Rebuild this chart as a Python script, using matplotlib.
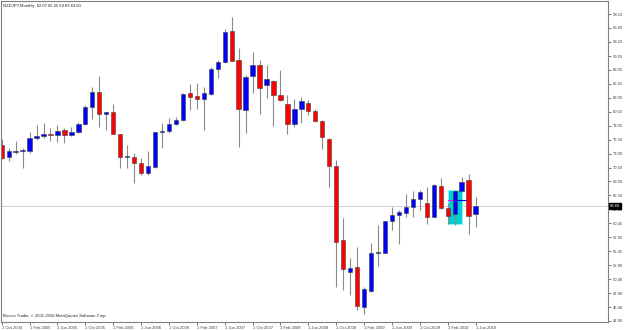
import matplotlib
matplotlib.use("Agg")
import matplotlib.pyplot as plt
from matplotlib.patches import Rectangle
import numpy as np

plt.rcParams["font.family"] = ["Liberation Sans", "DejaVu Sans"]

# Monthly NZDJPY candles, Oct 2004 .. Jun 2010
opens = [74.55, 72.44, 73.30, 73.40, 73.52, 75.80, 76.10, 76.45, 76.29, 77.19,
         76.40, 76.88, 78.32, 81.32, 84.08, 80.12, 80.55, 76.52, 72.40, 72.39,
         71.31, 69.46, 70.65, 76.90, 77.12, 78.27, 79.04, 83.84, 83.30, 82.87,
         83.72, 88.21, 89.41, 95.10, 89.83, 80.84, 87.01, 88.93, 85.30, 86.05,
         83.54, 81.92, 78.32, 81.02, 82.15, 80.66, 78.92, 75.62, 70.82, 57.46,
         51.80, 52.55, 45.36, 48.30, 55.07, 55.19, 60.94, 61.96, 62.38, 63.45,
         64.78, 64.06, 61.66, 67.17, 63.28, 62.09, 66.27, 68.20, 62.07]
highs = [75.60, 74.06, 75.27, 74.06, 76.94, 78.14, 78.56, 77.55, 78.14, 77.55,
         77.84, 78.74, 81.68, 84.92, 87.00, 80.55, 81.92, 76.60, 74.55, 73.05,
         72.15, 73.52, 76.95, 78.45, 79.35, 79.53, 83.95, 85.60, 85.65, 84.92,
         88.63, 89.83, 95.35, 97.60, 91.93, 87.13, 91.21, 89.83, 88.93, 86.23,
         88.03, 83.54, 82.76, 83.23, 82.64, 80.97, 79.04, 75.74, 71.85, 61.36,
         54.18, 56.15, 48.96, 56.98, 60.16, 60.94, 63.45, 62.86, 65.74, 66.33,
         66.45, 66.94, 67.47, 68.56, 64.06, 66.40, 68.74, 69.28, 65.25]
lows = [72.00, 71.67, 72.95, 70.35, 73.16, 75.44, 75.75, 75.27, 75.15, 74.97,
        76.16, 76.65, 78.14, 79.22, 77.84, 77.24, 76.50, 70.35, 70.50, 67.66,
        69.15, 69.15, 70.35, 73.95, 76.65, 78.14, 78.86, 80.84, 80.97, 77.24,
        83.54, 86.54, 89.23, 89.60, 74.13, 76.76, 83.84, 80.12, 82.94, 77.96,
        82.50, 76.52, 77.72, 78.45, 79.94, 78.74, 73.77, 67.05, 49.07, 48.48,
        47.58, 44.88, 44.10, 48.18, 52.79, 55.07, 59.26, 56.74, 61.54, 61.54,
        62.86, 60.34, 61.54, 63.04, 60.34, 60.16, 66.15, 58.49, 59.83]
closes = [72.15, 73.47, 73.50, 73.60, 75.86, 76.10, 76.50, 76.42, 77.12, 76.40,
          76.88, 78.27, 81.32, 84.08, 80.12, 80.40, 76.52, 72.33, 72.60, 71.26,
          69.46, 70.77, 76.83, 77.10, 78.27, 79.04, 83.66, 83.12, 82.90, 83.84,
          88.21, 89.41, 94.92, 89.70, 80.97, 86.83, 88.93, 84.74, 86.38, 83.54,
          82.64, 78.27, 81.02, 82.46, 80.66, 78.92, 76.04, 70.82, 57.16, 52.25,
          52.40, 45.60, 48.60, 55.07, 55.30, 60.88, 61.96, 62.44, 63.45, 64.78,
          66.03, 61.66, 67.35, 63.16, 61.84, 66.27, 67.95, 61.84, 63.60]

ytick_values = [42.90, 45.40, 47.90, 50.40, 52.90, 55.45, 57.95, 60.45, 62.95,
                65.50, 68.00, 70.50, 73.00, 75.50, 78.05, 80.55, 83.05, 85.55,
                88.05, 90.55, 93.10, 95.60, 98.10]
xtick_labels = ["1 Oct 2004", "1 Feb 2005", "1 Jun 2005", "1 Oct 2005",
                "1 Feb 2006", "1 Jun 2006", "1 Oct 2006", "1 Feb 2007",
                "1 Jun 2007", "1 Oct 2007", "1 Feb 2008", "1 Jun 2008",
                "1 Oct 2008", "1 Feb 2009", "1 Jun 2009", "1 Oct 2009",
                "1 Feb 2010", "1 Jun 2010"]
last_price = 63.60
title = "NZDJPY,Monthly  62.07 65.25 59.83 63.60"
credit = "Brocco Trader, \u00a9 2001-2010 MetaQuotes Software Corp."

# highlighted box (month index range and price range) and level line
box_start, box_end = 64, 66
box_low, box_high = 60.34, 66.45
level = 64.65

FS = 3.0
W, H = 625, 330
fig = plt.figure(figsize=(W / 100, H / 100), dpi=100)
fig.patch.set_facecolor("white")
ax = fig.add_axes([1 / W, 8 / H, 607 / W, 321 / H])
ax.set_facecolor("white")

o = np.array(opens); h = np.array(highs); l = np.array(lows); c = np.array(closes)
x = np.arange(len(o))

ax.add_patch(Rectangle((box_start, box_low), box_end - box_start, box_high - box_low,
                       facecolor="#00ced1", edgecolor="#7fffff", lw=0.6, zorder=0.5))

ax.vlines(x, l, h, color="#8a8a8a", lw=0.8, zorder=1)
up = c >= o
colors = np.where(up, "#0000ff", "#ff0000")
bottoms = np.minimum(o, c)
heights = np.maximum(np.abs(c - o), 0.15)
ax.bar(x, heights, bottom=bottoms, width=0.62, color=colors,
       edgecolor="#404040", lw=0.4, zorder=2)

ax.plot([box_start, box_start + 1.4], [level, level], color="#ff00ff", lw=0.8, zorder=1.5)
ax.plot([box_start + 1.4, box_start + 2.7], [level, level], color="#0000ff", lw=0.8, zorder=1.5)

ax.axhline(last_price, color="#c8c8d8", lw=0.6, zorder=0.3)

ax.set_xlim(-0.1, 87)
ax.set_ylim(42.72, 100.44)

ax.yaxis.tick_right()
ax.set_yticks(ytick_values)
ax.set_yticklabels([f"{v:.2f}" for v in ytick_values], fontsize=FS, color="#303030")
ax.tick_params(axis="y", length=2, width=0.5, pad=1.2, colors="#404040")

ax.set_xticks(np.arange(0, 4 * len(xtick_labels), 4))
ax.set_xticklabels(xtick_labels, fontsize=FS, color="#303030")
for lab in ax.get_xticklabels():
    lab.set_horizontalalignment("left")
ax.tick_params(axis="x", length=2, width=0.5, pad=1, colors="#404040")

for s in ax.spines.values():
    s.set_color("#808080")
    s.set_linewidth(0.8)

ax.text(1.003, last_price, f"{last_price:.2f}", transform=ax.get_yaxis_transform(),
        fontsize=FS, color="white", va="center", ha="left",
        bbox=dict(boxstyle="square,pad=0.15", facecolor="black", edgecolor="black"),
        zorder=5, clip_on=False)

ax.text(0.004, 0.99, title, transform=ax.transAxes, fontsize=FS, va="top", ha="left",
        color="#202020")
ax.text(0.004, 0.012, credit, transform=ax.transAxes, fontsize=FS, va="bottom",
        ha="left", color="#202020")

fig.savefig("out.png", dpi=100, facecolor="white")
